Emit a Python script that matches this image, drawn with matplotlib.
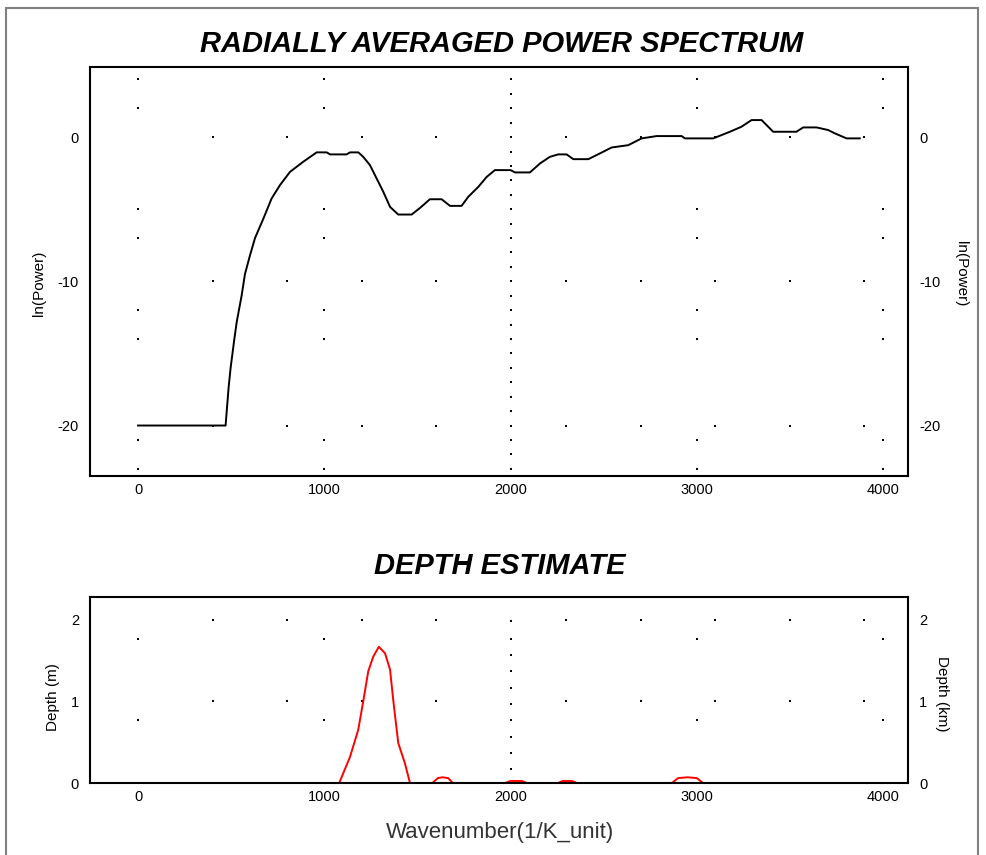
import numpy as np
import matplotlib
matplotlib.use("Agg")
import matplotlib.pyplot as plt
from matplotlib.patches import Rectangle

plt.rcParams["axes.unicode_minus"] = False

# radially averaged power spectrum
k_spec = [0, 470, 478, 486, 497, 517, 530, 556, 574, 601, 628, 673, 717, 762, 816,
          887, 959, 1013, 1031, 1120, 1138, 1183, 1209, 1245, 1281, 1317, 1353, 1397,
          1469, 1514, 1567, 1630, 1675, 1737, 1773, 1827, 1872, 1916, 2000, 2024, 2104,
          2158, 2211, 2256, 2301, 2337, 2418, 2480, 2543, 2632, 2704, 2784, 2919, 2936,
          3088, 3178, 3240, 3294, 3348, 3410, 3535, 3571, 3643, 3705, 3741, 3804, 3875]
ln_power = [-20, -20, -18.7, -17.4, -16.0, -14.0, -12.8, -11.0, -9.5, -8.2, -7.0, -5.65,
            -4.26, -3.33, -2.41, -1.71, -1.06, -1.06, -1.2, -1.2, -1.06, -1.06, -1.37,
            -1.94, -2.87, -3.8, -4.84, -5.37, -5.37, -4.91, -4.31, -4.31, -4.77, -4.77,
            -4.14, -3.45, -2.76, -2.29, -2.29, -2.45, -2.45, -1.83, -1.37, -1.2, -1.2,
            -1.53, -1.53, -1.13, -0.72, -0.56, -0.09, 0.07, 0.07, -0.09, -0.09, 0.37,
            0.72, 1.18, 1.18, 0.37, 0.37, 0.67, 0.67, 0.49, 0.26, -0.09, -0.09]

# depth estimate
k_depth = [0, 1080, 1138, 1182, 1209, 1236, 1263, 1293, 1326, 1353, 1370, 1397, 1433,
           1460, 1580, 1610, 1635, 1665, 1690, 1970, 2000, 2060, 2088, 2254, 2280, 2330,
           2356, 2866, 2900, 2950, 3000, 3033, 3880]
depth = [0, 0, 0.32, 0.65, 1.0, 1.37, 1.55, 1.67, 1.59, 1.39, 1.02, 0.49, 0.24,
         0, 0, 0.06, 0.07, 0.06, 0, 0, 0.025, 0.025, 0, 0, 0.025, 0.025,
         0, 0, 0.06, 0.07, 0.06, 0, 0]

x_ticks = [0, 1000, 2000, 3000, 4000]
spec_ticks = [0, -10, -20]
depth_ticks = [0, 1, 2]

# dot grid positions
grid_xa = [0, 1000, 2000, 3000, 4000]
grid_xb = [400, 800, 1200, 1600, 2300, 2700, 3100, 3500, 3900]
spec_grid_ya = [4, 2, -5, -7, -12, -14, -21, -23]
spec_grid_yb = [0, -10, -20]
depth_grid_ya = [1.77, 0.77]
depth_grid_yb = [2, 1]
spec_vline_y = list(range(-23, 5))
depth_vline_y = [0.17, 0.37, 0.57, 0.77, 0.97, 1.17, 1.37, 1.57, 1.77, 1.98]

W, H = 987, 855
fig = plt.figure(figsize=(W / 100, H / 100), dpi=100)
fig.patch.set_facecolor("white")


def fx(px):
    return px / W


def fy(py):
    return 1 - py / H


xlim = (-258, 4134)
TICK_SIZE = 10.5


def setup(ax, ylim, yticks):
    ax.set_xlim(*xlim)
    ax.set_ylim(*ylim)
    ax.set_xticks(x_ticks)
    ax.set_yticks(yticks)
    for s in ax.spines.values():
        s.set_linewidth(1.5)
        s.set_color("black")
    ax.tick_params(length=0, labelsize=TICK_SIZE)
    ax.tick_params(axis="x", pad=5)
    ax.tick_params(axis="y", pad=8)
    for lab in ax.get_xticklabels() + ax.get_yticklabels():
        lab.set_fontfamily("Liberation Sans")
    twin = ax.twinx()
    twin.set_ylim(*ylim)
    twin.set_yticks(yticks)
    twin.tick_params(length=0, pad=8, labelsize=TICK_SIZE)
    for lab in twin.get_yticklabels():
        lab.set_fontfamily("Liberation Sans")
    for s in twin.spines.values():
        s.set_visible(False)
    return twin


def dots(ax, xs, ys):
    gx, gy = np.meshgrid(xs, ys)
    ax.plot(gx.ravel(), gy.ravel(), ls="none", marker="s", ms=1.7, mew=0,
            color="black", zorder=1)


# top panel
ax1 = fig.add_axes([fx(90), fy(476), fx(908) - fx(90), fy(67) - fy(476)])
setup(ax1, (-23.5, 4.86), spec_ticks)
dots(ax1, grid_xa, spec_grid_ya)
dots(ax1, grid_xb, spec_grid_yb)
dots(ax1, [2000], spec_vline_y)
ax1.plot(k_spec, ln_power, color="black", lw=1.4, zorder=2)

# bottom panel
ax2 = fig.add_axes([fx(90), fy(783), fx(908) - fx(90), fy(597) - fy(783)])
setup(ax2, (0, 2.28), depth_ticks)
dots(ax2, grid_xa, depth_grid_ya)
dots(ax2, grid_xb, depth_grid_yb)
dots(ax2, [2000], depth_vline_y)
ax2.plot(k_depth, depth, color="red", lw=1.4, zorder=2)

# titles and labels
title_kw = dict(family="Liberation Sans", weight="bold", style="italic",
                size=21, ha="center", va="center")
fig.text(fx(502), fy(44), "RADIALLY AVERAGED POWER SPECTRUM", **title_kw)
fig.text(fx(500), fy(566), "DEPTH ESTIMATE", **title_kw)
fig.text(fx(500), fy(832), "Wavenumber(1/K_unit)", family="Liberation Sans",
         size=16, color="#333333", ha="center", va="center")

lab_kw = dict(family="Liberation Sans", size=11, ha="center", va="center")
fig.text(fx(39), fy(283), "ln(Power)", rotation=90, **lab_kw)
fig.text(fx(961), fy(274), "ln(Power)", rotation=-90, **lab_kw)
fig.text(fx(53), fy(697), "Depth (m)", rotation=90, **lab_kw)
fig.text(fx(942), fy(694), "Depth (km)", rotation=-90, **lab_kw)

# outer frame
fig.patches.append(Rectangle((fx(6), -0.05), fx(978) - fx(6), fy(8) + 0.05,
                             transform=fig.transFigure, fill=False,
                             edgecolor="#808080", lw=1.5))

fig.savefig("out.png", dpi=100)
